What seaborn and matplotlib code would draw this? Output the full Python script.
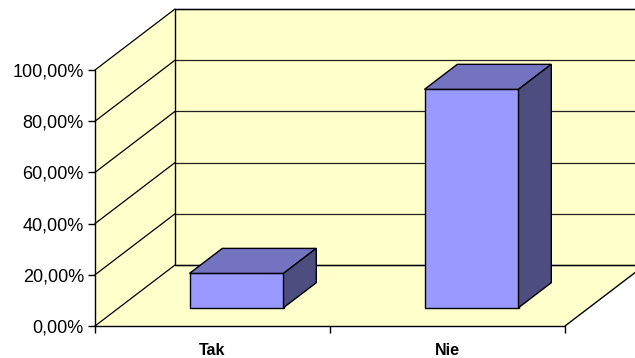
import matplotlib
matplotlib.use("Agg")
import numpy as np
import pandas as pd
import matplotlib.pyplot as plt
import matplotlib.transforms as mtransforms
from matplotlib.patches import Polygon
from matplotlib.lines import Line2D
from matplotlib.ticker import FixedLocator, FuncFormatter
import seaborn as sns

# Answers and their shares (percent)
categories = ["Tak", "Nie"]
values = [13.4, 85.3]
y_ticks = [0, 20, 40, 60, 80, 100]

sns.set_theme(style="white")
plt.rcParams['font.family'] = ['Liberation Sans', 'DejaVu Sans']

WALL = "#FFFFCC"
FRONT = "#9999FF"
TOP = "#7373BF"
SIDE = "#4D4D80"

fig = plt.figure(figsize=(6.35, 3.58), dpi=100)
ax = fig.add_axes([95 / 635, 32 / 358, 470 / 635, 256 / 358])
ax.patch.set_visible(False)

df = pd.DataFrame({"answer": categories, "share": values})
sns.barplot(data=df, x="answer", y="share", width=0.4, color=FRONT,
            saturation=1, edgecolor="black", linewidth=1.0, ax=ax, zorder=3)
bars = list(ax.patches)

ax.set_xlim(-0.5, 1.5)
ax.set_ylim(0, 100)
ax.set_xlabel("")
ax.set_ylabel("")

# oblique projection: full depth of the box in pixels
DEPTH = np.array([80.0, 61.0])
BAR_D0, BAR_D1 = 0.30, 0.71
IDENT = mtransforms.IdentityTransform()


def px(x, y, d=0.0):
    return ax.transData.transform((x, y)) + d * DEPTH


def poly(points, face, edge="black", lw=1.0, z=1):
    p = Polygon(np.array(points), closed=True, facecolor=face, edgecolor=edge,
                linewidth=lw, transform=IDENT, zorder=z, clip_on=False)
    ax.add_artist(p)
    return p


def seg(a, b, color="black", lw=1.0, z=1):
    ln = Line2D([a[0], b[0]], [a[1], b[1]], color=color, linewidth=lw,
                transform=IDENT, zorder=z, clip_on=False)
    ax.add_artist(ln)


x0, x1 = -0.5, 1.5
ymax = y_ticks[-1]

# back wall, side wall, floor
poly([px(x0, 0, 1), px(x1, 0, 1), px(x1, ymax, 1), px(x0, ymax, 1)], WALL, edge="none", z=0)
poly([px(x0, 0, 0), px(x0, ymax, 0), px(x0, ymax, 1), px(x0, 0, 1)], WALL, edge="none", z=0)
poly([px(x0, 0, 0), px(x1, 0, 0), px(x1, 0, 1), px(x0, 0, 1)], WALL, edge="none", z=0.1)

# gridlines on back wall and side wall
for t in y_ticks:
    seg(px(x0, t, 1), px(x1, t, 1), color="#222222", lw=0.9, z=0.5)
    seg(px(x0, t, 0), px(x0, t, 1), color="black", lw=0.9, z=0.5)

# wall and floor edges
seg(px(x0, 0, 1), px(x0, ymax, 1), z=0.6)
seg(px(x0, ymax, 1), px(x1, ymax, 1), z=0.6)
seg(px(x0, 0, 1), px(x1, 0, 1), z=0.6)
seg(px(x1, 0, 0), px(x1, 0, 1), z=0.6)
seg(px(x0, 0, 0), px(x1, 0, 0), z=0.6)
seg(px(x0, 0, 0), px(x0, ymax, 0), z=0.6)

# shift seaborn bars back into the box and add top / side faces
shift = mtransforms.ScaledTranslation(BAR_D0 * DEPTH[0] / fig.dpi,
                                      BAR_D0 * DEPTH[1] / fig.dpi,
                                      fig.dpi_scale_trans)
for bar in bars:
    bx0 = bar.get_x()
    bx1 = bx0 + bar.get_width()
    h = bar.get_height()
    bar.set_transform(ax.transData + shift)
    bar.set_clip_on(False)
    bar.set_zorder(3)
    poly([px(bx0, h, BAR_D0), px(bx1, h, BAR_D0), px(bx1, h, BAR_D1), px(bx0, h, BAR_D1)],
         TOP, z=3)
    poly([px(bx1, 0, BAR_D0), px(bx1, h, BAR_D0), px(bx1, h, BAR_D1), px(bx1, 0, BAR_D1)],
         SIDE, z=3)

# axes: ticks and labels
for s in ax.spines.values():
    s.set_visible(False)

ax.yaxis.set_major_locator(FixedLocator(y_ticks))
ax.yaxis.set_major_formatter(FuncFormatter(lambda v, _: f"{v:.2f}%".replace(".", ",")))
ax.tick_params(axis="y", which="major", left=True, length=5, width=1,
               color="black", pad=3, labelsize=13, labelcolor="black")

ax.set_xticks([0, 1])
ax.set_xticklabels(categories, fontweight="bold", fontsize=11.5, color="black")
ax.set_xticks([-0.5, 0.5, 1.5], minor=True)
ax.tick_params(axis="x", which="major", bottom=False, length=0, pad=12)
ax.tick_params(axis="x", which="minor", bottom=True, length=5, width=1, color="black")

ax.grid(False)

fig.savefig("out.png", dpi=100)
